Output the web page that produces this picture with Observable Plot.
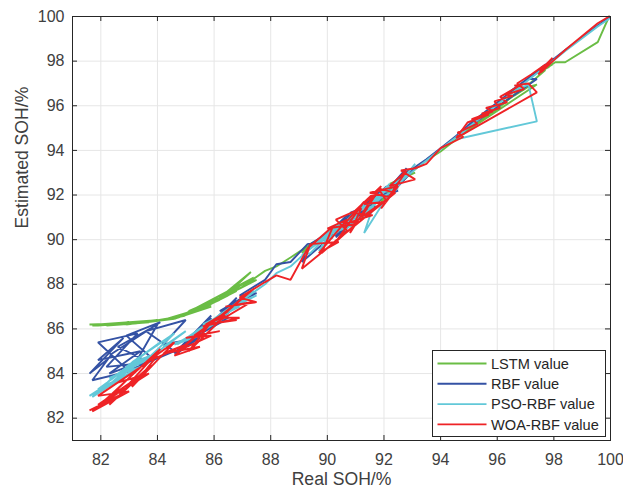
<!DOCTYPE html>
<html>
<head>
<meta charset="utf-8">
<script src="https://cdn.jsdelivr.net/npm/d3@7"></script>
<script src="https://cdn.jsdelivr.net/npm/@observablehq/plot@0.6"></script>
<style>
  html, body { margin: 0; padding: 0; background: #fff; }
  #chart { width: 623px; height: 491px; }
</style>
</head>
<body>
<div id="chart"></div>
<script>
// Real state of health over the test cycles (%), with capacity regeneration jumps
const realSOH = [
  99.95, 99.55, 98.40, 98.05, 97.55, 97.95, 97.50, 97.85, 97.45, 97.70,
  97.20, 96.70, 96.95, 96.30, 96.55, 95.90, 96.10, 95.45, 95.70, 94.95, 94.55,
  97.40,
  97.10, 96.60, 96.85, 96.10, 96.35, 95.60, 95.85, 95.10, 95.30, 94.60, 94.80, 94.00, 93.50, 93.10,
  92.60, 93.10, 92.20, 92.80, 91.90, 92.50, 91.50, 92.20, 91.20, 91.90, 90.90, 91.60, 90.60, 91.30, 90.30, 91.00, 90.00, 90.70, 89.70, 90.40, 89.40, 89.10,
  92.40, 91.80, 92.10, 91.30, 91.70, 90.80, 91.20, 90.30, 90.70, 89.80, 90.20, 89.30, 88.70, 88.20,
  87.80, 86.90, 87.50, 86.40, 87.30, 86.10, 86.80, 85.70, 86.50, 85.30, 86.20, 85.00, 85.90, 84.70,
  87.40, 86.20, 86.90, 85.60, 86.40, 85.10, 85.90, 84.60, 85.50,
  84.20, 85.00, 83.60, 84.60, 83.10, 84.00, 82.60, 83.70, 82.20, 83.30, 81.90, 83.00, 81.70, 82.40,
  84.10, 82.90, 83.80, 82.30, 83.40, 81.90, 82.80, 81.60, 82.20
];

// Estimated SOH (%) from each model, in the same cycle order as realSOH
const lstmValue = [
  100.00, 98.85, 97.95, 97.95, 97.55, 97.85, 97.55, 97.75, 97.50, 97.60,
  97.05, 96.60, 96.85, 96.20, 96.45, 95.85, 96.00, 95.35, 95.60, 94.90, 94.55,
  96.95,
  96.85, 96.45, 96.70, 96.00, 96.20, 95.50, 95.75, 95.00, 95.20, 94.55, 94.75, 93.95, 93.55, 93.15,
  92.80, 93.00, 92.50, 92.80, 91.70, 92.70, 91.80, 92.00, 91.30, 92.10, 90.80, 91.70, 90.90, 91.20, 90.50, 91.00, 90.30, 90.60, 89.90, 90.50, 89.80, 89.40,
  92.50, 92.00, 92.10, 91.50, 91.80, 91.10, 91.20, 90.50, 90.90, 90.10, 90.30, 89.70, 89.20, 88.80,
  88.60, 87.80, 88.20, 87.50, 88.55, 87.30, 87.70, 87.00, 87.50, 86.80, 87.30, 86.70, 87.00, 86.50,
  88.30, 87.40, 87.80, 87.00, 87.50, 86.80, 87.10, 86.45, 86.90,
  86.40, 86.60, 86.30, 86.45, 86.25, 86.40, 86.20, 86.30, 86.15, 86.25, 86.20, 86.30, 86.15, 86.25,
  86.40, 86.20, 86.35, 86.20, 86.30, 86.15, 86.25, 86.20, 86.20
];

const rbfValue = [
  99.95, 99.60, 98.50, 98.15, 97.70, 98.05, 97.60, 97.95, 97.55, 97.80,
  97.35, 96.85, 97.10, 96.50, 96.70, 96.05, 96.25, 95.60, 95.85, 95.10, 94.65,
  97.20,
  97.20, 96.75, 96.95, 96.25, 96.45, 95.75, 95.95, 95.25, 95.40, 94.75, 94.90, 94.10, 93.60, 93.25,
  92.90, 93.20, 92.00, 93.20, 91.90, 92.20, 91.80, 92.30, 91.10, 92.20, 91.10, 91.40, 91.00, 91.30, 90.10, 91.30, 90.10, 90.40, 90.00, 90.60, 89.80, 89.00,
  92.60, 91.70, 92.40, 91.40, 91.50, 91.20, 91.40, 90.30, 91.10, 90.00, 90.10, 89.80, 89.00, 88.90,
  88.20, 87.50, 87.60, 86.90, 87.60, 86.30, 87.40, 86.00, 86.50, 85.80, 86.30, 85.40, 86.50, 84.90,
  87.70, 86.80, 87.10, 86.10, 86.40, 85.50, 86.60, 84.90, 85.60,
  85.30, 86.40, 85.90, 85.00, 84.20, 86.20, 85.20, 84.50, 84.30, 85.80, 85.40, 84.10, 83.70, 84.90,
  86.30, 85.70, 84.70, 84.00, 85.00, 84.60, 85.60, 84.00, 84.60
];

const psoRbfValue = [
  99.90, 99.55, 98.45, 98.10, 97.60, 98.00, 97.55, 97.90, 97.50, 97.75,
  97.25, 96.75, 97.00, 96.35, 96.60, 95.95, 96.15, 95.50, 95.75, 95.00, 94.50,
  95.30,
  96.95, 96.65, 96.90, 96.15, 96.40, 95.65, 95.90, 95.15, 95.35, 94.65, 94.85, 94.05, 93.55, 93.15,
  92.60, 93.40, 91.90, 92.90, 92.10, 92.30, 91.60, 92.50, 90.90, 91.90, 91.20, 91.50, 90.40, 91.60, 90.40, 90.70, 90.20, 90.80, 89.50, 90.70, 89.40, 89.30,
  92.50, 92.00, 91.90, 90.30, 91.80, 91.00, 91.00, 90.60, 90.80, 89.70, 90.50, 89.50, 88.80, 88.50,
  88.00, 87.20, 87.50, 86.80, 87.40, 86.40, 87.00, 86.20, 86.60, 85.70, 86.40, 85.50, 86.20, 85.30,
  87.70, 86.60, 87.00, 86.20, 86.60, 85.60, 86.20, 85.30, 85.70,
  85.20, 85.90, 84.60, 85.80, 84.50, 84.90, 84.00, 84.80, 83.40, 84.60, 83.30, 84.00, 82.95, 83.80,
  85.40, 84.30, 84.70, 83.80, 84.30, 83.20, 83.90, 83.00, 83.50
];

const woaRbfValue = [
  100.00, 99.70, 98.50, 98.10, 97.50, 98.15, 97.55, 98.00, 97.40, 97.85,
  97.40, 97.00, 96.75, 96.50, 96.45, 96.20, 95.90, 95.65, 95.60, 95.25, 94.55,
  96.60,
  97.00, 96.90, 96.95, 96.40, 96.15, 95.90, 95.75, 95.40, 95.20, 94.80, 94.60, 94.10, 93.40, 93.20,
  93.10, 92.70, 92.40, 93.10, 91.40, 92.40, 92.10, 91.90, 91.00, 92.40, 91.20, 91.10, 90.70, 91.70, 89.90, 90.70, 90.50, 90.90, 89.40, 89.90, 89.80, 88.70,
  92.10, 92.30, 91.70, 91.60, 92.10, 90.30, 91.40, 90.90, 90.40, 89.40, 90.60, 89.60, 88.20, 88.40,
  88.10, 87.40, 87.20, 87.00, 87.20, 86.30, 86.40, 86.20, 86.80, 85.70, 85.90, 85.60, 85.70, 85.00,
  87.80, 86.50, 86.50, 86.10, 86.60, 85.00, 86.30, 84.80, 85.20,
  84.90, 85.30, 84.50, 85.40, 83.40, 84.80, 83.60, 84.00, 82.80, 84.20, 83.00, 83.20, 82.30, 83.10,
  85.10, 83.40, 84.40, 82.60, 83.90, 82.60, 83.10, 82.35, 82.70
];

const seriesNames = ["LSTM value", "RBF value", "PSO-RBF value", "WOA-RBF value"];
const seriesColors = ["#6abd45", "#3452a4", "#62c8d8", "#ee2326"];
const xTicks = [82, 84, 86, 88, 90, 92, 94, 96, 98, 100];
const yTicks = [82, 84, 86, 88, 90, 92, 94, 96, 98, 100];

// One table per model: (real, estimated) pairs in cycle order
const estimates = [lstmValue, rbfValue, psoRbfValue, woaRbfValue];
const rows = estimates.map((vals, s) =>
  vals.map((v, i) => ({series: seriesNames[s], real: realSOH[i], est: v, cycle: i}))
);

const W = 623, H = 491;
const mL = 72, mR = 13, mT = 16, mB = 51;
const innerW = W - mL - mR, innerH = H - mT - mB;
const tickLen = 5;
const lineWidth = 1.9;
const ink = "#262626";
const font = "'Liberation Sans', Arial, Helvetica, sans-serif";

const chart = Plot.plot({
  width: W,
  height: H,
  marginLeft: mL,
  marginRight: mR,
  marginTop: mT,
  marginBottom: mB,
  style: {fontFamily: font, background: "#fff", color: ink},
  x: {domain: [81, 100]},
  y: {domain: [81, 100]},
  marks: [
    Plot.gridX(xTicks, {stroke: "#e6e6e6", strokeOpacity: 1}),
    Plot.gridY(yTicks, {stroke: "#e6e6e6", strokeOpacity: 1}),
    ...rows.map((data, s) =>
      Plot.line(data, {x: "real", y: "est", stroke: seriesColors[s], strokeWidth: lineWidth, strokeLinejoin: "miter"})
    ),
    Plot.frame({stroke: ink, strokeWidth: 1}),
    // inward ticks on all four sides of the box
    Plot.tickX(xTicks, {x: d => d, insetTop: innerH - tickLen, stroke: ink}),
    Plot.tickX(xTicks, {x: d => d, insetBottom: innerH - tickLen, stroke: ink}),
    Plot.tickY(yTicks, {y: d => d, insetRight: innerW - tickLen, stroke: ink}),
    Plot.tickY(yTicks, {y: d => d, insetLeft: innerW - tickLen, stroke: ink}),
    Plot.axisX(xTicks, {tickSize: 0, tickPadding: 13, fontSize: 16, fill: "#404040", label: null}),
    Plot.axisY(yTicks, {tickSize: 0, tickPadding: 8, fontSize: 16, fill: "#404040", label: null}),
    Plot.text(["Real SOH/%"], {frameAnchor: "bottom", dy: 44, fontSize: 17.6, fill: "#404040"}),
    Plot.text(["Estimated SOH/%"], {frameAnchor: "left", dx: -50, rotate: -90, fontSize: 17.6, fill: "#404040"})
  ]
});

document.getElementById("chart").appendChild(chart);

// Legend box in the lower-right corner of the axes
const svg = d3.select(chart);
const lg = svg.append("g").attr("transform", "translate(432.5,350.5)");
lg.append("rect")
  .attr("width", 173).attr("height", 86)
  .attr("fill", "#fff").attr("stroke", "#262626").attr("stroke-width", 1);
seriesNames.forEach((name, i) => {
  const y = 13 + i * 20.3;
  lg.append("line")
    .attr("x1", 5).attr("x2", 54).attr("y1", y).attr("y2", y)
    .attr("stroke", seriesColors[i]).attr("stroke-width", lineWidth);
  lg.append("text")
    .attr("x", 58.5).attr("y", y).attr("dy", "0.36em")
    .attr("text-anchor", "start")
    .attr("font-family", font).attr("font-size", 14.6).attr("fill", "#262626")
    .text(name);
});
</script>
</body>
</html>
